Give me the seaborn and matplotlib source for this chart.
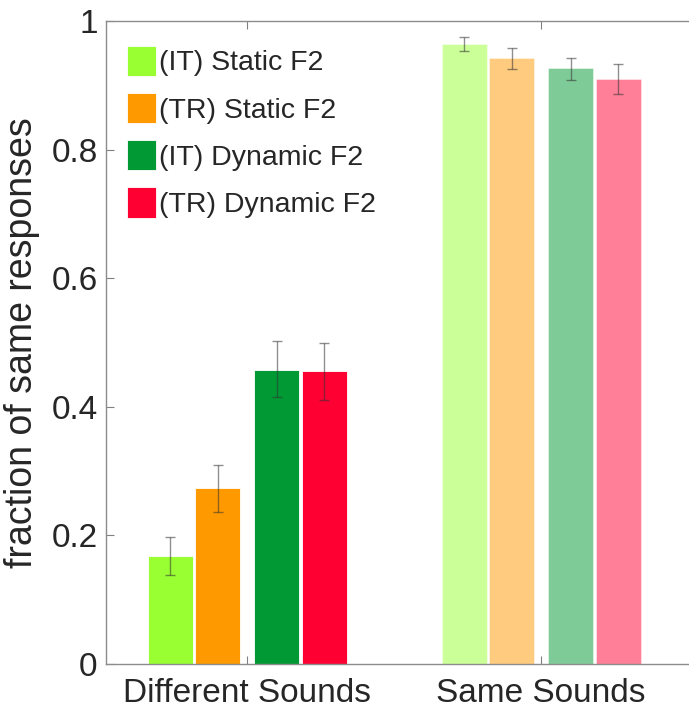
import matplotlib
matplotlib.use("Agg")
import matplotlib.pyplot as plt
import seaborn as sns
import numpy as np
import pandas as pd

conditions = ["Different Sounds", "Same Sounds"]
series = ["(IT) Static F2", "(TR) Static F2", "(IT) Dynamic F2", "(TR) Dynamic F2"]
colors = ["#99FF33", "#FF9900", "#009933", "#FF0033"]
it_static = [0.168, 0.965]
tr_static = [0.274, 0.943]
it_dynamic = [0.457, 0.927]
tr_dynamic = [0.455, 0.910]
err_lo = {
    "(IT) Static F2": [0.138, 0.954],
    "(TR) Static F2": [0.237, 0.926],
    "(IT) Dynamic F2": [0.415, 0.909],
    "(TR) Dynamic F2": [0.411, 0.887],
}
err_hi = {
    "(IT) Static F2": [0.198, 0.975],
    "(TR) Static F2": [0.310, 0.958],
    "(IT) Dynamic F2": [0.502, 0.943],
    "(TR) Dynamic F2": [0.500, 0.933],
}
values = {s: v for s, v in zip(series, [it_static, tr_static, it_dynamic, tr_dynamic])}

sns.set_theme(style="white")
plt.rcParams["font.family"] = ["Liberation Sans", "DejaVu Sans"]

offsets = [-0.262, -0.100, 0.100, 0.262]
bar_w = 0.153
group_alpha = [1.0, 0.5]

fig = plt.figure(figsize=(6.89, 7.11), dpi=100)
ax = fig.add_axes([106 / 689, 1 - 664 / 711, (689 - 106) / 689, (664 - 21) / 711])

base = np.arange(1, len(conditions) + 1)
for s, off, c in zip(series, offsets, colors):
    xs = base + off
    df = pd.DataFrame({"x": xs, "y": values[s]})
    sns.barplot(data=df, x="x", y="y", native_scale=True, width=bar_w,
                color=c, saturation=1, errorbar=None, ax=ax, label=s)
for p in ax.patches:
    cx = p.get_x() + p.get_width() / 2
    gi = int(round(cx)) - 1
    p.set_alpha(group_alpha[gi])
    p.set_edgecolor("white")
    p.set_linewidth(0.6)

for s, off in zip(series, offsets):
    xs = base + off
    y = np.array(values[s])
    lo = y - np.array(err_lo[s])
    hi = np.array(err_hi[s]) - y
    ax.errorbar(xs, y, yerr=[lo, hi], fmt="none", ecolor="#333333",
                alpha=0.55, elinewidth=1.0, capsize=3.5, capthick=1.0)

ax.set_xlim(0.52, 2.503)
ax.set_ylim(0, 1)
ax.set_xticks(base)
ax.set_xticklabels(conditions)
ax.set_yticks([0, 0.2, 0.4, 0.6, 0.8, 1.0])
ax.set_yticklabels(["0", "0.2", "0.4", "0.6", "0.8", "1"])
ax.set_xlabel("")
ax.set_ylabel("fraction of same responses", fontsize=27, color="#262626", labelpad=8)
ax.tick_params(axis="both", labelsize=24, colors="#262626", direction="in",
               length=6, width=0.8, top=True, left=True, bottom=True)
ax.tick_params(axis="both", color="#808080")
ax.tick_params(axis="x", pad=10)
ax.tick_params(axis="y", pad=6)
for side in ["left", "bottom", "top"]:
    ax.spines[side].set_visible(True)
    ax.spines[side].set_color("#8c8c8c")
    ax.spines[side].set_linewidth(1.0)
ax.spines["right"].set_visible(False)

handles, labels = ax.get_legend_handles_labels()
leg = ax.legend(handles[:4], labels[:4], loc="upper left", bbox_to_anchor=(0.0, 0.995),
                frameon=False, fontsize=20.5, handlelength=1.0, handleheight=1.26,
                handletextpad=0.12, labelspacing=0.58, borderaxespad=0.35)
for h in leg.legend_handles:
    h.set_alpha(1.0)
    h.set_edgecolor("white")

fig.savefig("out.png", dpi=100)
